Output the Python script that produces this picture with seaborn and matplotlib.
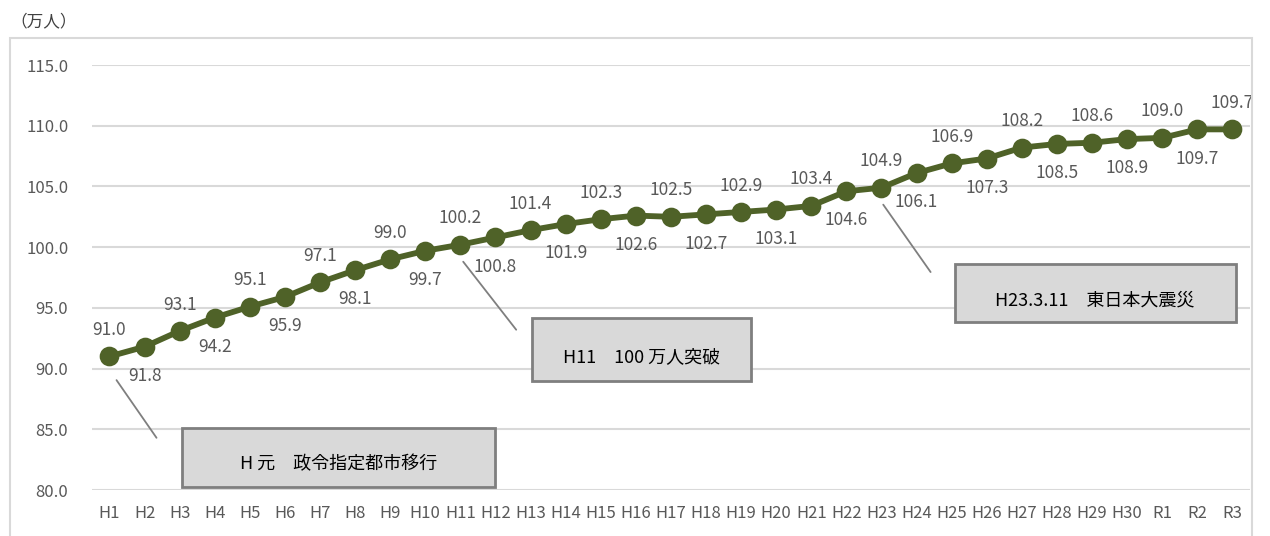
import pandas as pd
import matplotlib
matplotlib.use("Agg")
import matplotlib.pyplot as plt
from matplotlib.patches import Rectangle
import seaborn as sns

# data
years = ["H1", "H2", "H3", "H4", "H5", "H6", "H7", "H8", "H9", "H10",
         "H11", "H12", "H13", "H14", "H15", "H16", "H17", "H18", "H19", "H20",
         "H21", "H22", "H23", "H24", "H25", "H26", "H27", "H28", "H29", "H30",
         "R1", "R2", "R3"]
population = [91.0, 91.8, 93.1, 94.2, 95.1, 95.9, 97.1, 98.1, 99.0, 99.7,
              100.2, 100.8, 101.4, 101.9, 102.3, 102.6, 102.5, 102.7, 102.9, 103.1,
              103.4, 104.6, 104.9, 106.1, 106.9, 107.3, 108.2, 108.5, 108.6, 108.9,
              109.0, 109.7, 109.7]
y_ticks = [80, 85, 90, 95, 100, 105, 110, 115]

events = ["H 元　政令指定都市移行", "H11　100 万人突破", "H23.3.11　東日本大震災"]

df = pd.DataFrame({"year": years, "pop": population})

sns.set_theme(style="white")
plt.rcParams["font.family"] = ["Noto Sans CJK JP", "DejaVu Sans"]

line_color = "#4f6228"
text_color = "#595959"

fig = plt.figure(figsize=(12.7, 5.36), dpi=100)
ax = fig.add_axes([0.0724, 0.0858, 0.9118, 0.7929])

# outer chart border
fig.patches.append(Rectangle((10 / 1270, -0.01), 1242 / 1270, 1 - 38 / 536 + 0.01,
                             transform=fig.transFigure, fill=False,
                             edgecolor="#d9d9d9", linewidth=1.5))

sns.pointplot(data=df, x="year", y="pop", order=years, color=line_color,
              markersize=11, linewidth=4.2, errorbar=None, ax=ax)
for coll in ax.collections + ax.lines:
    coll.set_clip_on(False)

# value labels, alternating above / below
for i, v in enumerate(population):
    if i % 2 == 0:
        ax.annotate(f"{v:.1f}", (i, v), xytext=(0, 19), textcoords="offset points",
                    ha="center", va="center", fontsize=12.5, color=text_color)
    else:
        ax.annotate(f"{v:.1f}", (i, v), xytext=(0, -21), textcoords="offset points",
                    ha="center", va="center", fontsize=12.5, color=text_color)

ax.set_ylim(80, 115)
ax.set_xlim(-0.5, len(years) - 0.5)
ax.set_yticks(y_ticks)
ax.set_yticklabels([f"{t:.1f}" for t in y_ticks])
ax.yaxis.grid(True, color="#d9d9d9", linewidth=1.5)
ax.set_axisbelow(True)
for s in ax.spines.values():
    s.set_visible(False)
ax.tick_params(axis="y", length=0, pad=17, labelsize=12, labelcolor=text_color)
ax.tick_params(axis="x", length=0, pad=11, labelsize=12, labelcolor=text_color)
ax.set_xlabel("")
ax.set_ylabel("")

fig.text(10 / 1270, 1 - 22 / 536, "（万人）", fontsize=12, color="#404040",
         ha="left", va="center")

# event callouts: leader line, box, text
leaders = [((0.2, 89.05), (1.34, 84.3)),
           ((10.08, 98.8), (11.59, 93.2)),
           ((22.05, 103.5), (23.4, 97.95))]
boxes = [(2.08, 80.24, 8.91, 4.86),
         (12.04, 89.0, 6.24, 5.16),
         (24.09, 93.8, 8.0, 4.8)]
for (p0, p1), (bx, by, bw, bh), label in zip(leaders, boxes, events):
    ax.plot([p0[0], p1[0]], [p0[1], p1[1]], color="#7f7f7f", linewidth=1.3)
    ax.add_patch(Rectangle((bx, by), bw, bh, facecolor="#d9d9d9",
                           edgecolor="#7f7f7f", linewidth=2, zorder=3))
    ax.text(bx + bw / 2, by + bh * 0.38, label, ha="center", va="center",
            fontsize=13, color="black", zorder=4)

fig.savefig("out.png", dpi=100)
